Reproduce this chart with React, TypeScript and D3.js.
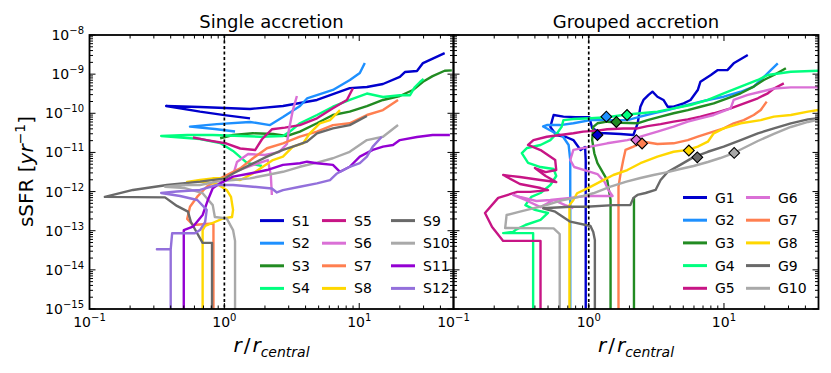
import React, { useEffect, useRef } from "react";
import * as d3 from "d3";

// sSFR of satellites vs. distance in units of the central's radius
const singleNames = ["S1", "S2", "S3", "S4", "S5", "S6", "S7", "S8", "S9", "S10", "S11", "S12"];
const groupNames = ["G1", "G2", "G3", "G4", "G5", "G6", "G7", "G8", "G9", "G10"];
const palette = ["#0000CD", "#1E90FF", "#228B22", "#00FF7F", "#C71585", "#DA70D6",
  "#FF7F50", "#FFD700", "#696969", "#A9A9A9", "#9400D3", "#9370DB"];

const xTickValues = [0.1, 1, 10];
const yTickValues = [1e-15, 1e-14, 1e-13, 1e-12, 1e-11, 1e-10, 1e-9, 1e-8];

// [r / r_central, sSFR]; 1e-16 = sSFR of zero (drops off the bottom)
const s1 = [[1.55, 7.4e-11], [1.0, 9.0e-11], [0.66, 1.1e-10], [0.37, 1.54e-10], [0.66, 1.45e-10], [1.55, 1.29e-10], [2.72, 1.54e-10], [4.86, 2.19e-10], [8.5, 4.4e-10], [11.4, 4.7e-10], [15, 5.6e-10], [20, 8.5e-10], [21.8, 1.13e-9], [26.8, 1.2e-9], [29.7, 1.92e-9], [43, 3.46e-9]];
const s2 = [[1.2, 3.43e-11], [0.85, 3.97e-11], [0.556, 4.55e-11], [0.88, 5.3e-11], [1.55, 6.0e-11], [2.18, 5.0e-11], [2.72, 8.0e-11], [3.64, 1.54e-10], [4.1, 2.39e-10], [6.38, 3.94e-10], [8.53, 7.1e-10], [10.1, 1.07e-9], [11.0, 1.92e-9]];
const s3 = [[0.93, 2.3e-11], [1.16, 2.79e-11], [1.63, 3.09e-11], [2.3, 2.96e-11], [2.9, 2.63e-11], [3.63, 3.39e-11], [4.86, 5.55e-11], [6.38, 9.05e-11], [8.5, 1.1e-10], [11.4, 1.53e-10], [15, 2.19e-10], [20, 2.77e-10], [25, 3.94e-10], [29.7, 6.4e-10], [35, 8.9e-10], [43, 1.22e-9], [48.6, 1.25e-9]];
const s4 = [[30, 7.5e-10], [28.2, 6.3e-10], [25.9, 4.7e-10], [23.8, 2.9e-10], [20, 2.9e-10], [15, 2.6e-10], [11.4, 3.2e-10], [8.5, 2.19e-10], [6.38, 1.47e-10], [4.86, 9.05e-11], [3.63, 5.55e-11], [3.06, 3.4e-11], [2.72, 2.63e-11], [1.84, 2.52e-11], [0.82, 2.79e-11], [0.53, 2.79e-11], [0.34, 2.63e-11], [0.66, 2.2e-11], [0.93, 1.74e-11], [1.16, 1.09e-11], [1.47, 5.4e-12], [1.9, 4.5e-12]];
const s5 = [[0.585, 2.4e-11], [0.74, 2.07e-11], [1.04, 1.69e-11], [1.31, 1.26e-11], [1.69, 1.15e-11], [1.9, 2.17e-11], [2.25, 3.9e-11], [2.81, 4.3e-11], [3.63, 5.0e-11], [4.86, 7.45e-11], [6.38, 1.34e-10], [8.1, 2.19e-10], [8.98, 4.35e-10]];
const s6 = [[3.45, 2.77e-10], [3.22, 1.21e-10], [3.01, 3.74e-11], [2.91, 1.64e-11], [2.54, 1.02e-11], [2.0, 8.6e-12], [1.5, 9.1e-12], [1.24, 5.7e-12], [1.18, 3.2e-12], [1.55, 4.5e-12], [2.1, 6.4e-12], [2.21, 2.65e-12], [2.25, 8.2e-13]];
const s7 = [[19.4, 2.19e-10], [15, 1.21e-10], [11.4, 9.05e-11], [8.5, 5.55e-11], [6.38, 5.0e-11], [4.86, 3.39e-11], [3.63, 2.52e-11], [2.72, 1.71e-11], [2.07, 1.28e-11], [1.63, 7.1e-12], [1.31, 3.9e-12], [0.88, 1.97e-12], [0.74, 1.33e-12], [0.63, 7.4e-13], [0.556, 4.1e-13], [0.53, 2.0e-13], [0.585, 1.4e-13], [0.78, 1.5e-13], [0.83, 1.5e-13], [0.83, 1e-16]];
const s8 = [[7.2, 1.21e-10], [6.07, 6.7e-11], [5.1, 5.55e-11], [4.3, 3.08e-11], [3.83, 1.71e-11], [3.22, 1.41e-11], [2.72, 7.8e-12], [2.29, 6.4e-12], [1.93, 4.3e-12], [1.63, 2.9e-12], [1.31, 1.97e-12], [1.04, 2.18e-12], [0.82, 2.18e-12], [0.66, 1.97e-12], [0.53, 1.76e-12], [0.66, 1.8e-12], [0.88, 1.56e-12], [1.04, 1.1e-12], [1.12, 7.3e-13], [1.16, 3.4e-13], [1.14, 2.24e-13], [0.98, 2.06e-13], [0.85, 1.67e-13], [0.72, 1.32e-13], [0.69, 1.04e-13], [0.69, 1e-16]];
const s9 = [[11.4, 8.5e-11], [8.5, 5.0e-11], [6.38, 4.1e-11], [4.86, 3.08e-11], [4.1, 1.88e-11], [3.22, 1.41e-11], [2.72, 1.16e-11], [2.07, 7.8e-12], [1.55, 4.8e-12], [1.16, 2.9e-12], [1.01, 2.18e-12], [0.66, 1.79e-12], [0.376, 1.47e-12], [0.21, 1.1e-12], [0.13, 7.3e-13], [0.363, 7.1e-13], [0.445, 4.3e-13], [0.537, 3.07e-13], [0.565, 1.67e-13], [0.63, 8.5e-14], [0.69, 4.9e-14], [0.81, 4.9e-14], [0.81, 1e-16]];
const s10 = [[19.4, 5.0e-11], [15, 2.52e-11], [11.4, 2.07e-11], [8.5, 1.04e-11], [6.38, 7.1e-12], [4.86, 5.5e-12], [3.63, 4.3e-12], [2.72, 3.2e-12], [2.07, 2.65e-12], [1.55, 2.18e-12], [1.16, 1.97e-12], [0.88, 1.79e-12], [0.66, 1.47e-12], [0.49, 1.47e-12], [0.363, 1.33e-12], [0.51, 1.23e-12], [0.69, 9.1e-13], [0.82, 4.5e-13], [0.85, 2.24e-13], [1.04, 2.06e-13], [1.16, 1.04e-13], [1.2, 5.5e-14], [1.2, 1e-16]];
const s11 = [[47, 2.79e-11], [35, 2.79e-11], [26.8, 2.48e-11], [20, 2.07e-11], [17.8, 1.55e-11], [15, 1.41e-11], [12.6, 1.16e-11], [10.1, 7.8e-12], [8.5, 4.3e-12], [7.2, 3.2e-12], [6.38, 4.8e-12], [4.86, 5.3e-12], [4.1, 5.8e-12], [3.63, 5.3e-12], [2.72, 4.8e-12], [2.07, 3.55e-12], [1.55, 2.9e-12], [1.16, 2.4e-12], [0.93, 1.62e-12], [0.82, 1.21e-12], [0.755, 6.1e-13], [0.69, 2.52e-13], [0.585, 1.27e-13], [0.5, 1.04e-13], [0.5, 1e-16]];
const s12 = [[14.7, 2.52e-11], [12.6, 1.41e-11], [11.4, 7.8e-12], [10.1, 5.3e-12], [8.5, 4.3e-12], [6.84, 2.9e-12], [6.07, 1.97e-12], [4.86, 1.62e-12], [3.63, 1.33e-12], [2.72, 1.09e-12], [2.45, 9.5e-13], [2.25, 1.2e-12], [1.63, 1.33e-12], [1.16, 1.47e-12], [0.88, 1.47e-12], [0.66, 1.1e-12], [0.445, 1.0e-12], [0.34, 9.2e-13], [0.47, 7.7e-13], [0.63, 6.1e-13], [0.74, 3.4e-13], [0.72, 1.67e-13], [0.66, 1.04e-13], [0.605, 8.6e-14], [0.41, 8.6e-14], [0.4, 3.35e-14], [0.316, 3.35e-14], [0.4, 3.35e-14], [0.4, 1e-16]];

const g1 = [[15, 3.07e-9], [11.8, 1.89e-9], [10.6, 1.27e-9], [9.0, 1.27e-9], [8.0, 9.5e-10], [6.7, 6.4e-10], [6.4, 3.93e-10], [5.66, 2.18e-10], [5.03, 1.8e-10], [4.24, 1.47e-10], [3.83, 1.47e-10], [3.57, 2.19e-10], [3.22, 2.65e-10], [2.96, 3.56e-10], [2.77, 2.94e-10], [2.54, 2.19e-10], [2.41, 1.47e-10], [2.3, 5.55e-11], [2.14, 2.79e-11], [1.72, 2.96e-11], [1.22, 3.14e-11], [1.06, 4.2e-11], [1.01, 8.0e-11], [0.8, 8.0e-11], [0.65, 8.2e-11], [0.55, 9.05e-11], [0.52, 4.5e-11], [0.575, 2.79e-11], [0.68, 2.48e-11], [0.77, 2.07e-11], [0.87, 1.15e-11], [0.94, 1.38e-11], [0.95, 6.4e-12], [0.95, 1e-16]];
const g2 = [[25, 1.89e-9], [22.2, 1.27e-9], [20.4, 9.5e-10], [18.7, 7.1e-10], [16.6, 4.8e-10], [13.3, 3.55e-10], [9.95, 2.65e-10], [7.6, 2.19e-10], [5.96, 1.8e-10], [4.75, 1.47e-10], [3.83, 1.21e-10], [3.01, 1.0e-10], [2.41, 8.2e-11], [1.93, 6.7e-11], [1.03, 6.7e-11], [0.77, 5.55e-11], [0.615, 5.0e-11], [0.49, 5.0e-11], [0.46, 4.6e-11], [0.55, 3.3e-11], [0.64, 2.63e-11], [0.71, 1.55e-11], [0.73, 6.4e-12], [0.73, 1e-16]];
const g3 = [[28.7, 1.41e-9], [23.4, 9.5e-10], [19.7, 7.1e-10], [16.6, 4.8e-10], [13.3, 3.24e-10], [10.6, 2.42e-10], [8.4, 1.8e-10], [6.7, 1.47e-10], [5.4, 1.21e-10], [4.24, 1.0e-10], [3.4, 8.2e-11], [2.72, 6.7e-11], [2.29, 5.55e-11], [1.72, 5.75e-11], [1.37, 6.1e-11], [1.16, 5.55e-11], [1.08, 4.5e-11], [1.06, 2.07e-11], [1.1, 9.5e-12], [1.16, 5.3e-12], [1.37, 1.97e-12], [1.45, 6.1e-13], [1.45, 1e-16], [2.16, 1e-16], [2.16, 7.3e-13]];
const g4 = [[50, 1.22e-9], [31.2, 1.15e-9], [21.1, 9.5e-10], [17.8, 7.1e-10], [13.3, 4.8e-10], [9.95, 3.24e-10], [7.6, 2.19e-10], [5.66, 1.63e-10], [4.24, 1.34e-10], [3.22, 1.1e-10], [2.41, 1.0e-10], [1.8, 9.05e-11], [1.37, 7.9e-11], [1.03, 7.45e-11], [0.77, 7.15e-11], [0.65, 6.7e-11], [0.63, 4.5e-11], [0.585, 3.14e-11], [0.52, 2.07e-11], [0.44, 1.55e-11], [0.35, 1.3e-11], [0.32, 9.6e-12], [0.356, 5.4e-12], [0.44, 4.24e-12], [0.55, 3.77e-12], [0.575, 2.5e-12], [0.52, 1.47e-12], [0.44, 9.2e-13], [0.376, 7.3e-13], [0.34, 4.5e-13], [0.4, 3.4e-13], [0.5, 2.84e-13], [0.44, 1.88e-13], [0.34, 1.4e-13], [0.29, 1.07e-13], [0.276, 9.3e-14], [0.233, 8.7e-14], [0.388, 8.7e-14], [0.388, 1e-16]];
const g5 = [[27.7, 5.8e-10], [23.4, 4.3e-10], [21.1, 3.24e-10], [17.8, 2.42e-10], [11.2, 1.34e-10], [8.4, 1.0e-10], [6.7, 8.2e-11], [5.4, 7.0e-11], [4.24, 6.1e-11], [3.4, 5.3e-11], [2.72, 4.7e-11], [2.29, 4.1e-11], [1.8, 4.1e-11], [1.37, 3.9e-11], [1.16, 3.6e-11], [0.91, 3.39e-11], [0.77, 3.08e-11], [0.615, 2.79e-11], [0.49, 2.52e-11], [0.39, 2.07e-11], [0.356, 1.55e-11], [0.44, 1.15e-11], [0.565, 6.4e-12], [0.575, 3.55e-12], [0.48, 3.15e-12], [0.4, 4.0e-12], [0.48, 2.5e-12], [0.575, 1.75e-12], [0.44, 1.97e-12], [0.31, 2.35e-12], [0.233, 2.65e-12], [0.31, 1.56e-12], [0.44, 1.23e-12], [0.5, 1.09e-12], [0.369, 9.8e-13], [0.296, 9.8e-13], [0.214, 6.9e-13], [0.171, 2.84e-13], [0.193, 1.24e-13], [0.233, 5.5e-14], [0.44, 5.5e-14], [0.44, 1e-16]];
const g6 = [[50, 4.6e-10], [31.2, 4.6e-10], [23.4, 4.3e-10], [18.7, 3.55e-10], [15, 2.94e-10], [11.8, 2.19e-10], [11.2, 1.34e-10], [8.4, 9.05e-11], [6.7, 7.45e-11], [5.4, 6.1e-11], [4.24, 4.55e-11], [3.22, 3.39e-11], [2.41, 2.52e-11], [1.93, 2.07e-11], [1.37, 1.71e-11], [1.03, 1.41e-11], [0.77, 1.16e-11], [0.73, 6.4e-12], [0.78, 4.24e-12], [0.93, 3.55e-12], [1.16, 2.8e-12], [1.31, 1.75e-12], [1.4, 1.09e-12], [1.5, 7.7e-13], [1.22, 7.7e-13], [0.94, 7.7e-13], [0.73, 6.9e-13], [0.52, 6.1e-13], [0.41, 5.75e-13], [0.31, 7.3e-13], [0.276, 8.2e-13], [0.34, 6.1e-13], [0.44, 4.0e-13], [0.55, 6.1e-13], [0.67, 4.5e-13], [0.77, 3.8e-13]];
const g7 = [[20.7, 1.98e-10], [18.7, 1.21e-10], [16.6, 9.05e-11], [14.0, 6.7e-11], [11.8, 5.55e-11], [9.95, 4.1e-11], [7.6, 3.08e-11], [6.4, 2.52e-11], [5.4, 2.07e-11], [4.24, 1.71e-11], [3.22, 1.64e-11], [2.54, 1.88e-11], [2.14, 1.41e-11], [1.87, 1.16e-11], [1.8, 6.4e-12], [1.72, 2.9e-12], [1.66, 1.33e-12], [1.66, 1e-16]];
const g8 = [[50, 1.21e-10], [41.8, 1.1e-10], [31.2, 9.05e-11], [23.4, 8.2e-11], [18.7, 6.7e-11], [13.3, 5.55e-11], [9.95, 4.1e-11], [8.4, 3.08e-11], [7.6, 1.88e-11], [6.4, 1.41e-11], [5.4, 1.16e-11], [4.24, 1.04e-11], [3.22, 7.8e-12], [2.41, 5.3e-12], [1.93, 3.55e-12], [1.52, 2.65e-12], [1.22, 1.79e-12], [0.98, 1.21e-12], [0.82, 9.05e-13], [0.77, 6.1e-13], [0.72, 4.5e-13], [0.72, 1e-16]];
const g9 = [[50, 7.45e-11], [41.8, 7.0e-11], [31.2, 5.55e-11], [23.4, 4.1e-11], [17.8, 3.08e-11], [13.3, 2.07e-11], [9.95, 1.41e-11], [7.6, 1.04e-11], [5.96, 7.6e-12], [4.75, 4.8e-12], [3.83, 3.15e-12], [3.4, 1.97e-12], [3.12, 1.1e-12], [2.63, 9.2e-13], [2.29, 8.2e-13], [2.14, 6.9e-13], [2.03, 4.5e-13], [1.52, 4.5e-13], [0.96, 4.1e-13], [0.73, 4.1e-13], [0.46, 3.75e-13], [0.565, 3.07e-13], [0.73, 1.7e-13], [1.03, 1.32e-13], [1.08, 9.3e-14], [1.11, 5.8e-14], [1.11, 1e-16]];
const g10 = [[50, 6.95e-11], [41.8, 6.0e-11], [31.2, 4.47e-11], [23.4, 2.96e-11], [17.8, 1.96e-11], [14.5, 1.38e-11], [11.8, 9.65e-12], [9.4, 7.2e-12], [7.6, 5.7e-12], [5.96, 4.5e-12], [4.75, 3.77e-12], [3.83, 3.15e-12], [3.01, 2.65e-12], [2.41, 2.22e-12], [1.9, 1.79e-12], [1.45, 1.34e-12], [1.08, 9.05e-13], [0.87, 7.4e-13], [0.65, 6.1e-13], [0.485, 4.5e-13], [0.31, 3.07e-13], [0.247, 2.52e-13], [0.241, 1.17e-13], [0.55, 1.15e-13], [0.61, 8.2e-14], [0.61, 1e-16]];

// group membership epoch, one per group (G5 has none visible)
const groupMarks = [[1.16, 2.79e-11], [1.35, 8.2e-11], [1.6, 6.0e-11], [1.92, 9.05e-11], null,
  [2.25, 2.07e-11], [2.48, 1.69e-11], [5.5, 1.12e-11], [6.35, 7.5e-12], [11.9, 9.7e-12]];

const singleSeries = [s1, s2, s3, s4, s5, s6, s7, s8, s9, s10, s11, s12];
const groupSeries = [g1, g2, g3, g4, g5, g6, g7, g8, g9, g10];

const FONT = "DejaVu Sans";

export default function App() {
  const svgRef = useRef<SVGSVGElement>(null);

  useEffect(() => {
    document.body.style.margin = "0";
    const svg = d3.select(svgRef.current);
    svg.selectAll("*").remove();

    const top = 35, bottom = 309;
    const y = d3.scaleLog().domain([1e-15, 1e-8]).range([bottom, top]);

    const panels = [
      {
        x0: 89.5, x1: 453.5, title: "Single accretion", series: singleSeries, names: singleNames,
        marks: null, yLabels: true, rows: 4, legX: [260, 322, 391], legY: 220.6, legDy: 22.6,
      },
      {
        x0: 453.5, x1: 818.5, title: "Grouped accretion", series: groupSeries, names: groupNames,
        marks: groupMarks, yLabels: false, rows: 5, legX: [683, 746], legY: 197.5, legDy: 22.7,
      },
    ];

    const yMinor: number[] = [];
    yTickValues.slice(0, -1).forEach(d => d3.range(2, 10).forEach(k => yMinor.push(d * k)));

    panels.forEach((p, pi) => {
      const x = d3.scaleLog().domain([0.1, 50]).range([p.x0, p.x1]);
      const g = svg.append("g");
      const clipId = "clip" + pi;
      g.append("clipPath").attr("id", clipId)
        .append("rect").attr("x", p.x0).attr("y", top)
        .attr("width", p.x1 - p.x0).attr("height", bottom - top);

      const line = d3.line<number[]>().x(d => x(d[0])).y(d => y(Math.max(d[1], 1e-17)));
      const plot = g.append("g").attr("clip-path", `url(#${clipId})`);

      plot.selectAll("path.series")
        .data(p.series)
        .enter()
        .append("path")
        .attr("class", "series")
        .attr("d", d => line(d as number[][]))
        .attr("fill", "none")
        .attr("stroke", (d, i) => palette[i])
        .attr("stroke-width", 2.4)
        .attr("stroke-linejoin", "round");

      // r = r_central
      plot.append("line")
        .attr("x1", x(1)).attr("x2", x(1)).attr("y1", top).attr("y2", bottom)
        .attr("stroke", "#000").attr("stroke-width", 1.7).attr("stroke-dasharray", "3,2.5");

      if (p.marks) {
        const sym = d3.symbol().type(d3.symbolSquare).size(58);
        plot.selectAll("path.mark")
          .data(p.marks.map((m, i) => ({ m, i })).filter(o => o.m))
          .enter()
          .append("path")
          .attr("class", "mark")
          .attr("d", sym() as string)
          .attr("transform", o => `translate(${x(o.m![0])},${y(o.m![1])}) rotate(45)`)
          .attr("fill", o => palette[o.i])
          .attr("stroke", "#000")
          .attr("stroke-width", 1.1);
      }

      // frame and ticks, all pointing inward
      const ax = g.append("g").attr("stroke", "#000");
      ax.append("rect").attr("x", p.x0).attr("y", top)
        .attr("width", p.x1 - p.x0).attr("height", bottom - top)
        .attr("fill", "none").attr("stroke-width", 1.8);

      const xt = x.ticks().filter(v => v >= 0.1 && v <= 50);
      xt.forEach(v => {
        const major = Math.abs(Math.log10(v) - Math.round(Math.log10(v))) < 1e-6;
        const len = major ? 6 : 3.5;
        ax.append("line").attr("x1", x(v)).attr("x2", x(v)).attr("y1", bottom).attr("y2", bottom - len).attr("stroke-width", 1);
        ax.append("line").attr("x1", x(v)).attr("x2", x(v)).attr("y1", top).attr("y2", top + len).attr("stroke-width", 1);
      });
      [...yTickValues.map(v => [v, 6]), ...yMinor.map(v => [v, 3.5])].forEach(([v, len]) => {
        ax.append("line").attr("x1", p.x0).attr("x2", p.x0 + len).attr("y1", y(v)).attr("y2", y(v)).attr("stroke-width", 1);
        ax.append("line").attr("x1", p.x1).attr("x2", p.x1 - len).attr("y1", y(v)).attr("y2", y(v)).attr("stroke-width", 1);
      });

      // tick labels
      xTickValues.forEach(v => {
        const t = g.append("text").attr("x", x(v)).attr("y", 327)
          .attr("text-anchor", "middle").attr("font-family", FONT).attr("font-size", 14);
        t.append("tspan").text("10");
        t.append("tspan").attr("dy", -6).attr("font-size", 10)
          .text(String(Math.round(Math.log10(v))).replace("-", "\u2212"));
      });
      if (p.yLabels) {
        yTickValues.forEach(v => {
          const t = g.append("text").attr("x", 84).attr("y", y(v) + 5)
            .attr("text-anchor", "end").attr("font-family", FONT).attr("font-size", 14);
          t.append("tspan").text("10");
          t.append("tspan").attr("dy", -6).attr("font-size", 10)
            .text(String(Math.round(Math.log10(v))).replace("-", "\u2212"));
        });
      }

      const cx = (p.x0 + p.x1) / 2;
      g.append("text").attr("x", cx).attr("y", 28).attr("text-anchor", "middle")
        .attr("font-family", FONT).attr("font-size", 18).text(p.title);

      const xl = g.append("text").attr("x", cx).attr("y", 352).attr("text-anchor", "middle")
        .attr("font-family", FONT).attr("font-size", 20);
      xl.append("tspan").attr("font-style", "italic").text("r");
      xl.append("tspan").attr("dx", 2).text("/");
      xl.append("tspan").attr("dx", 2).attr("font-style", "italic").text("r");
      xl.append("tspan").attr("dy", 5).attr("font-size", 14).attr("font-style", "italic").text("central");

      // legend
      p.names.forEach((name, i) => {
        const col = Math.floor(i / p.rows);
        const row = i % p.rows;
        const ly = p.legY + row * p.legDy;
        const lx = p.legX[col];
        g.append("line").attr("x1", lx).attr("x2", lx + 24).attr("y1", ly).attr("y2", ly)
          .attr("stroke", palette[i]).attr("stroke-width", 3);
        g.append("text").attr("x", lx + 32).attr("y", ly + 5)
          .attr("font-family", FONT).attr("font-size", 14).text(name);
      });
    });

    const yl = svg.append("text").attr("transform", "translate(33,171.5) rotate(-90)")
      .attr("text-anchor", "middle").attr("font-family", FONT).attr("font-size", 20);
    yl.append("tspan").text("sSFR [");
    yl.append("tspan").attr("font-style", "italic").text("yr");
    yl.append("tspan").attr("dy", -8).attr("font-size", 14).text("\u22121");
    yl.append("tspan").attr("dy", 8).text("]");
  }, []);

  return (
    <svg ref={svgRef} width={831} height={373}
      style={{ position: "absolute", left: 0, top: 0, background: "#fff" }} />
  );
}
